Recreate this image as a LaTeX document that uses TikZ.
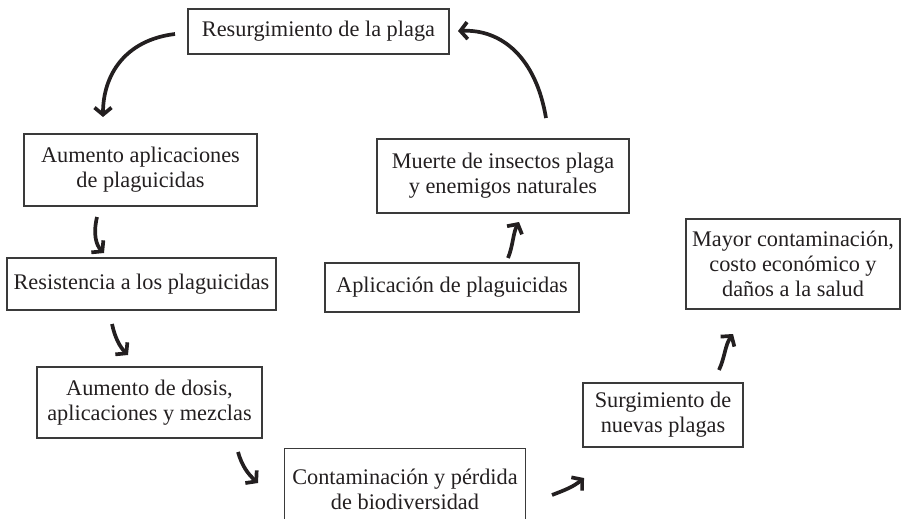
\documentclass[tikz,border=0pt]{standalone}
\usepackage{fontspec}
\setmainfont{Liberation Serif}
\usetikzlibrary{arrows.meta}
\definecolor{ink}{HTML}{231F20}
\definecolor{frame}{HTML}{3A3A3A}
\begin{document}
\begin{tikzpicture}[x=1pt,y=-1pt,
  box/.style={draw=frame,line width=1.3pt,inner sep=0pt,align=center,text=ink,
    font=\fontsize{22.3}{25}\selectfont},
  openbox/.style={draw=none,inner sep=0pt,align=center,text=ink,
    font=\fontsize{22.3}{25}\selectfont},
  flow/.style={draw=ink,line width=3.7pt,
    -{Straight Barb[length=7pt,width=17pt]}}]
\useasboundingbox (0,0) rectangle (902,519);
% boxes
\node[box,minimum width=261pt,minimum height=45pt] (n1) at (318.5,31.5) {Resurgimiento de la plaga};
\node[box,minimum width=233pt,minimum height=72pt] (n2) at (140.5,170) {Aumento aplicaciones\\de plaguicidas};
\node[box,minimum width=269pt,minimum height=52pt] (n3) at (141.5,284) {Resistencia a los plaguicidas};
\node[box,minimum width=225pt,minimum height=71pt] (n4) at (149.5,402.5) {Aumento de dosis,\\aplicaciones y mezclas};
\node[openbox,minimum width=240pt,minimum height=72pt] (n5) at (405,485) {};
\node[openbox] (n5t) at (405,489) {Contaminación y pérdida\\de biodiversidad};
\draw[draw=frame,line width=1.3pt] ([yshift=-2pt]n5.south west) |- (n5.north east) -- ([yshift=-2pt]n5.south east);
\node[box,minimum width=160pt,minimum height=64pt] (n6) at (663,415) {Surgimiento de\\nuevas plagas};
\node[box,minimum width=214pt,minimum height=90pt] (n7) at (793,264) {Mayor contaminación,\\costo económico y\\daños a la salud};
\node[box,minimum width=254pt,minimum height=49pt] (n8) at (452,287.5) {Aplicación de plaguicidas};
\node[box,minimum width=252pt,minimum height=74pt] (n9) at (503,176) {Muerte de insectos plaga\\y enemigos naturales};
% arrow end points
\coordinate (a1s) at (175,34);  \coordinate (a1e) at (103,117);
\coordinate (a2s) at (546,118); \coordinate (a2e) at (458,31);
\coordinate (a3s) at (97,217);  \coordinate (a3e) at (104,253);
\coordinate (a4s) at (112,324); \coordinate (a4e) at (128,355);
\coordinate (a5s) at (238,452); \coordinate (a5e) at (258,483);
\coordinate (a6s) at (552,495); \coordinate (a6e) at (584,478);
\coordinate (a7s) at (719,370); \coordinate (a7e) at (733,334);
\coordinate (a8s) at (508,258); \coordinate (a8e) at (519,222);
% arrows
\draw[flow] (a1s) .. controls (125,40) and (103,75) .. (a1e);
\draw[flow] (a2s) .. controls (536,58) and (502,29) .. (a2e);
\draw[flow] (a3s) .. controls (93,234) and (96,245) .. (a3e);
\draw[flow] (a4s) .. controls (115,338) and (120,347) .. (a4e);
\draw[flow] (a5s) .. controls (242,466) and (248,474) .. (a5e);
\draw[flow] (a6s) .. controls (565,490) and (573,487) .. (a6e);
\draw[flow] (a7s) .. controls (725,357) and (725,345) .. (a7e);
\draw[flow] (a8s) .. controls (513,246) and (513,233) .. (a8e);
\end{tikzpicture}
\end{document}
